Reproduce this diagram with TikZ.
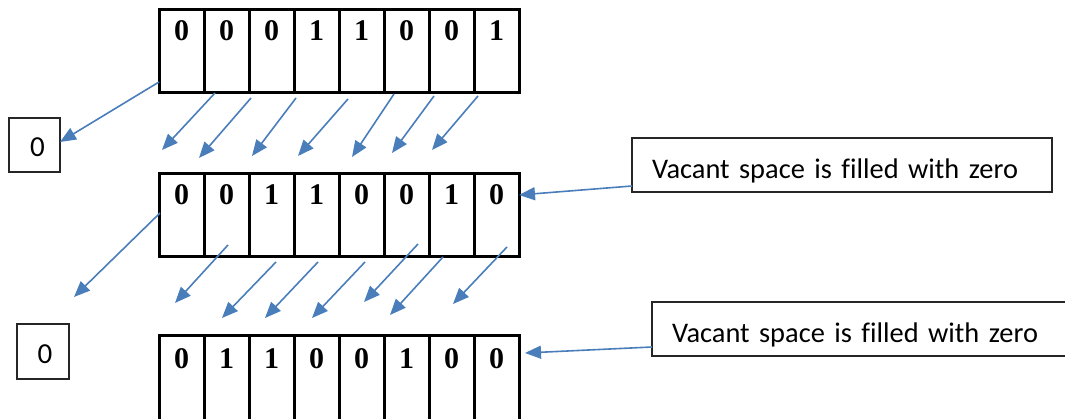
\documentclass[tikz,border=0pt]{standalone}
\usepackage{fontspec}
\setmainfont{Liberation Serif}
\newfontfamily\calibri[Ligatures=NoCommon]{Carlito}
\usetikzlibrary{arrows.meta,calc}
\definecolor{shiftblue}{HTML}{4A7EBB}
\tikzset{
  cell/.style={draw=black, line width=3pt, minimum width=45pt, minimum height=83pt,
    inner sep=0pt, outer sep=0pt},
  digit/.style={font=\bfseries\fontsize{30}{30}\selectfont, anchor=base, inner sep=0pt},
  outbox/.style={draw=black!85, line width=1.4pt, inner sep=0pt, outer sep=0pt,
    font=\calibri\fontsize{29}{29}\selectfont},
  note/.style={draw=black!85, line width=1.4pt, anchor=north west, inner xsep=20pt,
    inner ysep=0pt, outer sep=0pt, minimum height=54pt, align=left,
    font=\calibri\fontsize{28.4}{34}\selectfont},
  shiftarrow/.style={draw=shiftblue, line width=1.6pt,
    -{Triangle[length=16pt,width=13pt]}},
}
\begin{document}
\begin{tikzpicture}[x=1pt,y=-1pt]
\useasboundingbox (0,0) rectangle (1065,419);
\clip (0,0) rectangle (1065,419);

% the three register states
\foreach \d [count=\i] in {0,0,0,1,1,0,0,1} {
  \node[cell] (a\i) at (136.5+45*\i, 51.5) {};
  \node[digit] (ad\i) at ([yshift=-31pt]a\i.north) {\d};
}
\foreach \d [count=\i] in {0,0,1,1,0,0,1,0} {
  \node[cell] (b\i) at (136.5+45*\i, 215.5) {};
  \node[digit] (bd\i) at ([yshift=-31pt]b\i.north) {\d};
}
\foreach \d [count=\i] in {0,1,1,0,0,1,0,0} {
  \node[cell, minimum height=90pt] (c\i) at (136.5+45*\i, 381) {};
  \node[digit] (cd\i) at ([yshift=-32pt]c\i.north) {\d};
}

% bits shifted out on the left
\node[outbox, minimum width=51pt, minimum height=54pt] (out1) at (34.5,145)
  {\rule{0pt}{24pt}\hspace{6pt}0};
\node[outbox, minimum width=52pt, minimum height=55pt] (out2) at (43,351.5)
  {\rule{0pt}{24pt}\hspace{4pt}0};

% explanatory notes
\node[note, text width=380pt] (note1) at (632,138)
  {\rule{0pt}{31pt}Vacant space is filled with zero};
\node[note, text width=390pt] (note2) at (652,302)
  {\rule{0pt}{31pt}Vacant space is filled with zero};

% arrow end points, first shift
\foreach \n/\sx/\sy/\tx/\ty in {1/215/93/162/150, 2/251/98/199/158, 3/296/98/252/156,
    4/348/99/298/156, 5/394/94/352/157, 6/434/96/392/153, 7/478/96/432/150} {
  \coordinate (s\n) at (\sx,\sy);
  \coordinate (t\n) at (\tx,\ty);
}
% arrow end points, second shift
\foreach \n/\sx/\sy/\tx/\ty in {1/228/245/175/303, 2/276/262/222/318, 3/318/262/265/318,
    4/365/262/312/318, 5/418/244/364/302, 6/443/257/390/315, 7/507/247/453/304} {
  \coordinate (u\n) at (\sx,\sy);
  \coordinate (v\n) at (\tx,\ty);
}
\coordinate (lout1) at (159,82);
\coordinate (lout2) at (160,213);
\coordinate (drop2) at (74,297);
\coordinate (fill1) at (519,195);
\coordinate (fill2) at (525,353);

\foreach \n in {1,...,7} {
  \draw[shiftarrow] (s\n) -- (t\n);
  \draw[shiftarrow] (u\n) -- (v\n);
}
\draw[shiftarrow] (lout1) -- ($(out1.east)+(0,-3)$);
\draw[shiftarrow] (lout2) -- (drop2);
\draw[shiftarrow] ($(note1.south west)+(0,-6)$) -- (fill1);
\draw[shiftarrow] ($(note2.south west)+(0,-9)$) -- (fill2);
\end{tikzpicture}
\end{document}
